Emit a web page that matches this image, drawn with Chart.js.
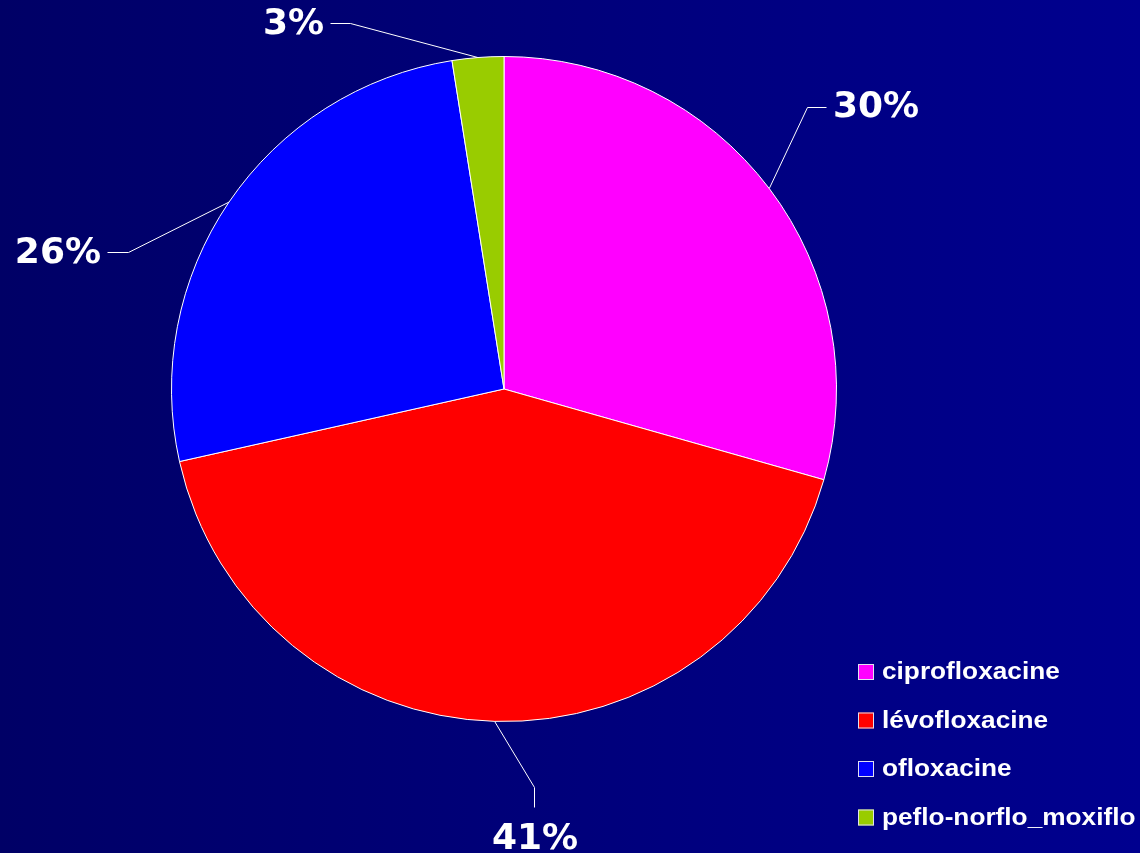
<!DOCTYPE html>
<html>
<head>
<meta charset="utf-8">
<script src="https://cdn.jsdelivr.net/npm/chart.js@4.4.1/dist/chart.umd.min.js"></script>
<style>
    html, body { margin: 0; padding: 0; }
    body { width: 1140px; height: 853px; overflow: hidden;
           background: linear-gradient(to right, #000066, #00008f); }
    canvas { display: block; }
</style>
</head>
<body>
<canvas id="chart1" width="1140" height="853"></canvas>
<script>
// data
const drugs = ['ciprofloxacine', 'lévofloxacine', 'ofloxacine', 'peflo-norflo_moxiflo'];
const shares = [29.4, 42.1, 26.0, 2.5];
const shareLabels = ['30%', '41%', '26%', '3%'];
const sliceColors = ['#ff00ff', '#ff0000', '#0000ff', '#99cc00'];

// where each percent label sits and how its leader bends (knee, then tip next to the text)
const labelSpots = [
    { x: 833, y: 108, align: 'left',   knee: [807, 107], tip: [826, 107] },
    { x: 535, y: 840, align: 'center', knee: [534, 787], tip: [534, 807] },
    { x: 101, y: 254, align: 'right',  knee: [128, 252], tip: [107, 252] },
    { x: 324, y: 25,  align: 'right',  knee: [350, 23],  tip: [330, 23] }
];

const outsideLabels = {
    id: 'outsideLabels',
    afterDatasetsDraw(chart) {
        const ctx = chart.ctx;
        const meta = chart.getDatasetMeta(0);
        ctx.save();
        meta.data.forEach((arc, i) => {
            const spot = labelSpots[i];
            const mid = (arc.startAngle + arc.endAngle) / 2;
            const ex = arc.x + Math.cos(mid) * arc.outerRadius;
            const ey = arc.y + Math.sin(mid) * arc.outerRadius;
            ctx.strokeStyle = '#ffffff';
            ctx.lineWidth = 1;
            ctx.beginPath();
            ctx.moveTo(ex, ey);
            ctx.lineTo(spot.knee[0] + 0.5, spot.knee[1] + 0.5);
            ctx.lineTo(spot.tip[0] + 0.5, spot.tip[1] + 0.5);
            ctx.stroke();

            ctx.fillStyle = '#ffffff';
            ctx.font = 'bold 36px "DejaVu Sans"';
            ctx.textAlign = spot.align;
            ctx.textBaseline = 'middle';
            ctx.fillText(shareLabels[i], spot.x, spot.y);
        });
        ctx.restore();
    }
};

const boxLegend = {
    id: 'boxLegend',
    afterDraw(chart) {
        const ctx = chart.ctx;
        ctx.save();
        drugs.forEach((name, i) => {
            const cy = 672 + i * 48.5;
            ctx.fillStyle = sliceColors[i];
            ctx.fillRect(858, cy - 8, 16, 16);
            ctx.strokeStyle = '#e0e0f0';
            ctx.lineWidth = 1;
            ctx.strokeRect(858.5, cy - 7.5, 15, 15);

            // the original text is set a bit wider than plain Arial
            ctx.save();
            ctx.translate(882, cy + 1);
            ctx.scale(1.14, 1);
            ctx.fillStyle = '#ffffff';
            ctx.font = 'bold 23px "Liberation Sans", Arial, sans-serif';
            ctx.textAlign = 'left';
            ctx.textBaseline = 'middle';
            ctx.fillText(name, 0, 0);
            ctx.restore();
        });
        ctx.restore();
    }
};

let ctx1 = document.querySelector('#chart1');

new Chart(ctx1, {
    type: 'pie',
    data: {
        labels: drugs,
        datasets: [{
            data: shares,
            backgroundColor: sliceColors,
            borderColor: '#ffffff',
            borderWidth: 1
        }]
    },
    options: {
        responsive: false,
        animation: false,
        layout: { padding: { left: 171, right: 303, top: 56, bottom: 131 } },
        plugins: {
            legend: { display: false },
            tooltip: { enabled: false }
        }
    },
    plugins: [outsideLabels, boxLegend]
});
</script>
</body>
</html>
